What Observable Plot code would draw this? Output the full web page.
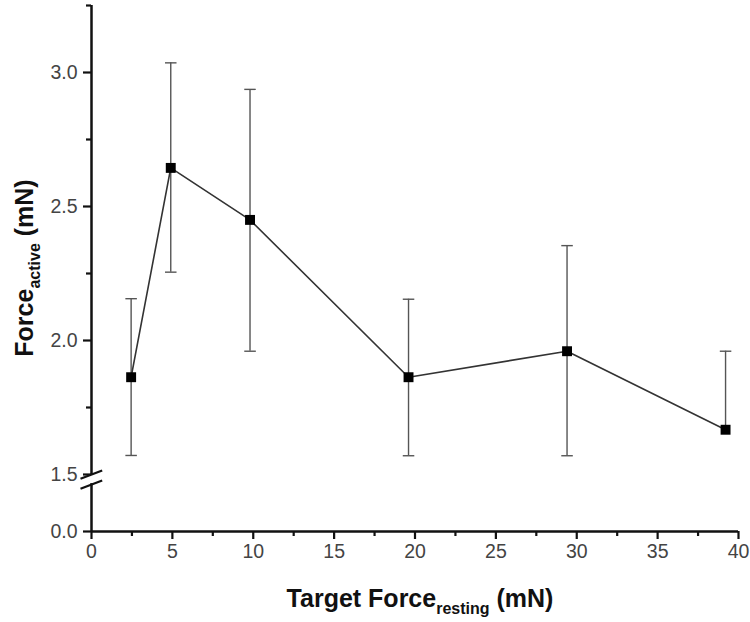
<!DOCTYPE html>
<html>
<head>
<meta charset="utf-8">
<script src="https://cdn.jsdelivr.net/npm/d3@7"></script>
<script src="https://cdn.jsdelivr.net/npm/@observablehq/plot@0.6"></script>
<style>
  html, body { margin: 0; padding: 0; background: #fff; }
  #chart { width: 750px; height: 622px; }
</style>
</head>
<body>
<div id="chart"></div>
<script>
// Data
const targetForce = [2.45, 4.9, 9.8, 19.6, 29.4, 39.2];
const activeForce = [1.863, 2.644, 2.450, 1.863, 1.960, 1.667];
const errHigh = [2.156, 3.036, 2.937, 2.154, 2.354, 1.960];
const errLow = [1.571, 2.255, 1.960, 1.570, 1.570, null];

const xMajorTicks = [0, 5, 10, 15, 20, 25, 30, 35, 40];
const xMinorTicks = [2.5, 7.5, 12.5, 17.5, 22.5, 27.5, 32.5, 37.5];
const yMajorTicks = [0.0, 1.5, 2.0, 2.5, 3.0];
const yMinorTicks = [1.75, 2.25, 2.75, 3.25];
// broken axis: 0–1.5 compressed below the break
const breakAt = 1.5;
const lowerCompression = 38 / 268;
const yTop = 3.25;
const axisSegments = [{y1: 0, y2: 1.26}, {y1: 1.5, y2: 3.25}];
const breakMarks = [
  {x1: -0.68, y1: 1.387, x2: 0.66, y2: 1.515},
  {x1: -0.68, y1: 1.124, x2: 0.66, y2: 1.342}
];

const yBreak = v => v <= breakAt ? v * lowerCompression : breakAt * lowerCompression + (v - breakAt);
const yUnbreak = u => u <= breakAt * lowerCompression ? u / lowerCompression : u - breakAt * lowerCompression + breakAt;

const data = targetForce.map((x, i) => ({x, y: activeForce[i], hi: errHigh[i], lo: errLow[i]}));
const withLow = data.filter(d => d.lo != null);

const capSymbol = {
  draw(ctx, size) {
    const w = Math.sqrt(size) / 2;
    ctx.moveTo(-w, 0);
    ctx.lineTo(w, 0);
  }
};

const W = 750, H = 622;
const mL = 91, mR = 12, mT = 5, mB = 91;
const font = "'Liberation Sans', Arial, sans-serif";
const fmt1 = d3.format(".1f");

const plot = Plot.plot({
  width: W,
  height: H,
  marginLeft: mL,
  marginRight: mR,
  marginTop: mT,
  marginBottom: mB,
  style: {fontFamily: font, background: "#fff", overflow: "visible"},
  x: {domain: [0, 40]},
  y: {transform: yBreak, domain: [yBreak(0), yBreak(yTop)]},
  marks: [
    // error bars
    Plot.ruleX(data, {x: "x", y1: "y", y2: "hi", stroke: "#555", strokeWidth: 1.4}),
    Plot.ruleX(withLow, {x: "x", y1: "lo", y2: "y", stroke: "#555", strokeWidth: 1.4}),
    Plot.dot(data, {x: "x", y: "hi", symbol: capSymbol, r: 6.5, stroke: "#555", strokeWidth: 1.4}),
    Plot.dot(withLow, {x: "x", y: "lo", symbol: capSymbol, r: 6.5, stroke: "#555", strokeWidth: 1.4}),
    // line
    Plot.line(data, {x: "x", y: "y", stroke: "#333", strokeWidth: 1.6}),
    Plot.dot(data, {x: "x", y: "y", symbol: "square", r: 5.6, fill: "#000", stroke: "none"}),
    // axis lines
    Plot.ruleY([0], {x1: 0, x2: 40, stroke: "#111", strokeWidth: 2.5}),
    Plot.ruleX(axisSegments, {x: 0, y1: "y1", y2: "y2", stroke: "#111", strokeWidth: 2.5}),
    Plot.link(breakMarks, {x1: "x1", y1: "y1", x2: "x2", y2: "y2", stroke: "#111", strokeWidth: 2.2}),
    // x axis
    Plot.axisX({ticks: xMajorTicks, tickSize: 8, tickPadding: 5, fontSize: 19.5, stroke: "#111", strokeWidth: 2.2, strokeOpacity: 1, color: "#444", label: null, tickFormat: d => String(d)}),
    Plot.axisX({ticks: xMinorTicks, tickSize: 5, stroke: "#111", strokeWidth: 2.2, strokeOpacity: 1, label: null, tickFormat: () => ""}),
    // y axis (ticks given in the broken-axis coordinate)
    Plot.axisY({ticks: yMajorTicks.map(yBreak), tickSize: 8, tickPadding: 6, fontSize: 19.5, stroke: "#111", strokeWidth: 2.2, strokeOpacity: 1, color: "#444", label: null, tickFormat: u => fmt1(Math.round(yUnbreak(u) * 100) / 100)}),
    Plot.axisY({ticks: yMinorTicks.map(yBreak), tickSize: 5, stroke: "#111", strokeWidth: 2.2, strokeOpacity: 1, label: null, tickFormat: () => ""})
  ]
});

const svg = d3.select(plot);

// axis titles with subscripts
const yl = svg.append("text")
  .attr("transform", "translate(33, 268) rotate(-90)")
  .attr("text-anchor", "middle")
  .attr("font-family", font)
  .attr("font-weight", "bold")
  .attr("font-size", 25)
  .attr("fill", "#111");
yl.append("tspan").text("Force");
yl.append("tspan").attr("font-size", 16).attr("dy", 7).text("active");
yl.append("tspan").attr("dy", -7).text(" (mN)");

const xl = svg.append("text")
  .attr("x", 420)
  .attr("y", 607)
  .attr("text-anchor", "middle")
  .attr("font-family", font)
  .attr("font-weight", "bold")
  .attr("font-size", 25)
  .attr("fill", "#111");
xl.append("tspan").text("Target Force");
xl.append("tspan").attr("font-size", 16).attr("dy", 7).text("resting");
xl.append("tspan").attr("dy", -7).text(" (mN)");

document.getElementById("chart").appendChild(plot);
</script>
</body>
</html>
